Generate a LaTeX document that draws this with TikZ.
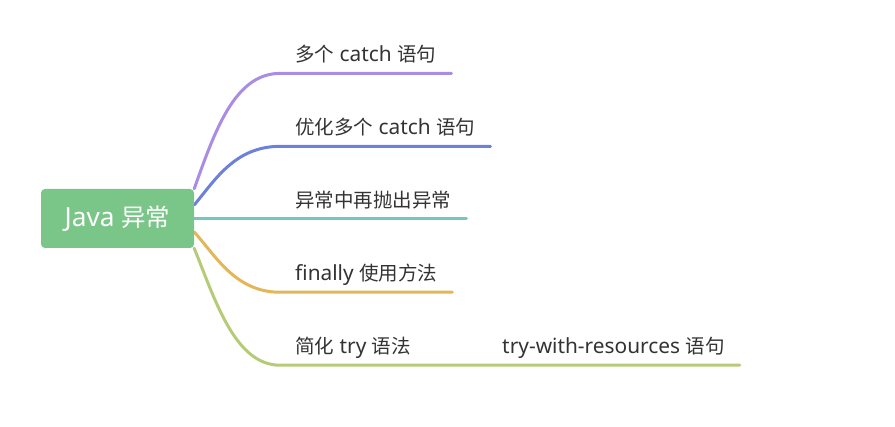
\documentclass[tikz,border=0pt]{standalone}
\usepackage{fontspec}
\setmainfont{Noto Sans}[Scale=1.07]
\newfontfamily\cjk{Noto Sans CJK SC}
\usetikzlibrary{positioning,backgrounds}
\definecolor{rootgreen}{HTML}{7AC588}
\definecolor{textgray}{HTML}{333333}
\definecolor{purpleline}{HTML}{A98CE3}
\definecolor{blueline}{HTML}{6D80DA}
\definecolor{tealline}{HTML}{72C7C3}
\definecolor{orangeline}{HTML}{E2B659}
\definecolor{greenline}{HTML}{B6CB78}
\begin{document}
\begin{tikzpicture}[
        x=1pt, y=-1pt,
        font=\fontsize{19.5}{22}\selectfont,
        root/.style={fill=rootgreen, text=white, rounded corners=4pt,
            minimum width=153pt, minimum height=59pt, inner sep=0pt,
            font=\fontsize{24.5}{28}\selectfont},
        leaf/.style={anchor=south west, inner xsep=15pt, inner ysep=7.5pt,
            text height=14pt, text depth=4pt, text=textgray},
        branch/.style={line width=3pt, line cap=round}
    ]
    \useasboundingbox (0,0) rectangle (895,427);
    % root
    \node[root] (java) at (117.5,218.5) {Java {\cjk 异常}};
    % first level
    \matrix (branches) [matrix anchor=north west, inner sep=0pt, row sep=39.75pt] at (280,40) {
        \node[leaf] (catchmulti) {{\cjk 多个} catch {\cjk 语句}}; \\
        \node[leaf] (catchbetter) {{\cjk 优化多个} catch {\cjk 语句}}; \\
        \node[leaf] (rethrow) {\cjk 异常中再抛出异常}; \\
        \node[leaf] (finally) {finally {\cjk 使用方法}}; \\
        \node[leaf] (trysimple) {{\cjk 简化} try {\cjk 语法}}; \\
    };
    % second level
    \node[leaf, right=61pt of trysimple.south east, anchor=south west] (trywith) {try-with-resources {\cjk 语句}};
    % branches
    \begin{scope}[on background layer]
        \draw[branch, purpleline] (java.north east) .. controls +(21,-59) and +(-45,0) .. (catchmulti.south west) -- (catchmulti.south east);
        \draw[branch, blueline] (java.10) .. controls +(21,-25) and +(-45,0) .. (catchbetter.south west) -- (catchbetter.south east);
        \draw[branch, tealline] (java.east) -- (java.east -| rethrow.south east);
        \draw[branch, orangeline] (java.-10) .. controls +(21,23) and +(-45,0) .. (finally.south west) -- (finally.south east);
        \draw[branch, greenline] (java.south east) .. controls +(21,52) and +(-45,0) .. (trysimple.south west) -- (trysimple.south east) -- (trywith.south west) -- (trywith.south east);
    \end{scope}
\end{tikzpicture}
\end{document}
